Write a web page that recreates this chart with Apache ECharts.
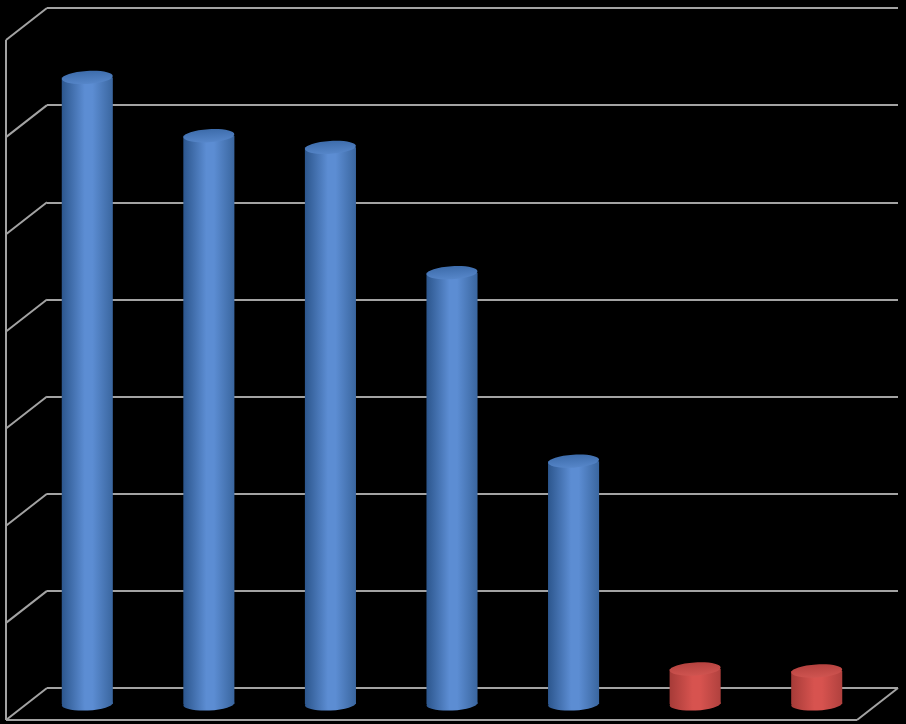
<!DOCTYPE html>
<html>
<head>
<meta charset="utf-8">
<script src="https://cdn.jsdelivr.net/npm/echarts@6/dist/echarts.min.js"></script>
<style>
  html, body { margin: 0; padding: 0; background: #000; }
  #chart { width: 906px; height: 724px; }
</style>
</head>
<body>
<div id="chart"></div>
<script>
// 数据
const categories = ['1', '2', '3', '4', '5', '6', '7'];
const values = [6.45, 5.85, 5.73, 4.44, 2.50, 0.36, 0.34];
const groups = ['a', 'a', 'a', 'a', 'a', 'b', 'b'];
const yTicks = [0, 1, 2, 3, 4, 5, 6, 7];

// 透视深度偏移 (后墙 -> 前面)
const DEPTH_X = -41;
const DEPTH_Y = 32;
const GRID_COLOR = '#a3a3a3';

const palette = {
    a: { dark: '#2c568d', light: '#5c8dd3', right: '#3a669f', top1: '#3d6cab', top2: '#5686c9' },
    b: { dark: '#a63b38', light: '#d7534f', right: '#b0413e', top1: '#b5423f', top2: '#cf5450' }
};

const chart = echarts.init(document.getElementById('chart'));

const option = {
    backgroundColor: '#000',
    animation: false,
    grid: [
        // 后墙
        { left: 47, right: 8, top: 8, bottom: 36 },
        // 柱子所在的中间深度
        { left: 47 + DEPTH_X / 2, right: 8 - DEPTH_X / 2, top: 8 + DEPTH_Y / 2, bottom: 36 - DEPTH_Y / 2 }
    ],
    xAxis: [
        { type: 'category', gridIndex: 0, data: categories, show: false },
        { type: 'category', gridIndex: 1, data: categories, show: false }
    ],
    yAxis: [
        {
            type: 'value', gridIndex: 0, min: 0, max: 7, interval: 1,
            axisLine: { show: false }, axisTick: { show: false }, axisLabel: { show: false },
            splitLine: { show: true, lineStyle: { color: GRID_COLOR, width: 2 } }
        },
        {
            type: 'value', gridIndex: 1, min: 0, max: 7, interval: 1,
            axisLine: { show: false }, axisTick: { show: false }, axisLabel: { show: false },
            splitLine: { show: false }
        }
    ],
    series: [
        {
            // 左侧墙和地面的斜线
            type: 'custom',
            xAxisIndex: 0,
            yAxisIndex: 0,
            clip: false,
            silent: true,
            data: yTicks.map(v => [0, v]),
            renderItem: function (params, api) {
                const cs = params.coordSys;
                const y = api.coord([0, api.value(1)])[1];
                const style = { stroke: GRID_COLOR, lineWidth: 2 };
                const children = [{
                    type: 'line',
                    shape: { x1: cs.x, y1: y, x2: cs.x + DEPTH_X, y2: y + DEPTH_Y },
                    style: style
                }];
                if (api.value(1) === 0) {
                    const right = cs.x + cs.width;
                    const topY = api.coord([0, yTicks[yTicks.length - 1]])[1];
                    // 地面前沿
                    children.push({
                        type: 'line',
                        shape: { x1: cs.x + DEPTH_X, y1: y + DEPTH_Y, x2: right + DEPTH_X, y2: y + DEPTH_Y },
                        style: style
                    });
                    // 地面右侧
                    children.push({
                        type: 'line',
                        shape: { x1: right, y1: y, x2: right + DEPTH_X, y2: y + DEPTH_Y },
                        style: style
                    });
                    // 左侧墙前沿
                    children.push({
                        type: 'line',
                        shape: { x1: cs.x + DEPTH_X, y1: topY + DEPTH_Y, x2: cs.x + DEPTH_X, y2: y + DEPTH_Y },
                        style: style
                    });
                }
                return { type: 'group', children: children };
            }
        },
        {
            // 圆柱
            type: 'custom',
            xAxisIndex: 1,
            yAxisIndex: 1,
            clip: false,
            data: values.map((v, i) => [i, v]),
            renderItem: function (params, api) {
                const i = api.value(0);
                const top = api.coord([i, api.value(1)]);
                const base = api.coord([i, 0]);
                const w = api.size([1, 0])[0] * 0.42;
                const rx = w / 2;
                const ry = 6.5;
                const c = palette[groups[params.dataIndex]];
                const bodyFill = new echarts.graphic.LinearGradient(0, 0, 1, 0, [
                    { offset: 0, color: c.dark },
                    { offset: 0.45, color: c.light },
                    { offset: 0.6, color: c.light },
                    { offset: 1, color: c.right }
                ]);
                const topFill = new echarts.graphic.LinearGradient(0, 0, 0, 1, [
                    { offset: 0, color: c.top1 },
                    { offset: 1, color: c.top2 }
                ]);
                return {
                    type: 'group',
                    children: [
                        {
                            type: 'ellipse',
                            shape: { cx: base[0], cy: base[1], rx: rx, ry: ry },
                            rotation: 0.05,
                            originX: base[0], originY: base[1],
                            style: { fill: bodyFill }
                        },
                        {
                            type: 'rect',
                            shape: { x: top[0] - rx, y: top[1], width: w, height: base[1] - top[1] },
                            style: { fill: bodyFill }
                        },
                        {
                            type: 'ellipse',
                            shape: { cx: top[0], cy: top[1], rx: rx, ry: ry },
                            rotation: 0.06,
                            originX: top[0], originY: top[1],
                            style: { fill: topFill }
                        }
                    ]
                };
            }
        }
    ]
};

chart.setOption(option);

window.addEventListener('resize', function () {
    chart.resize();
});
</script>
</body>
</html>
